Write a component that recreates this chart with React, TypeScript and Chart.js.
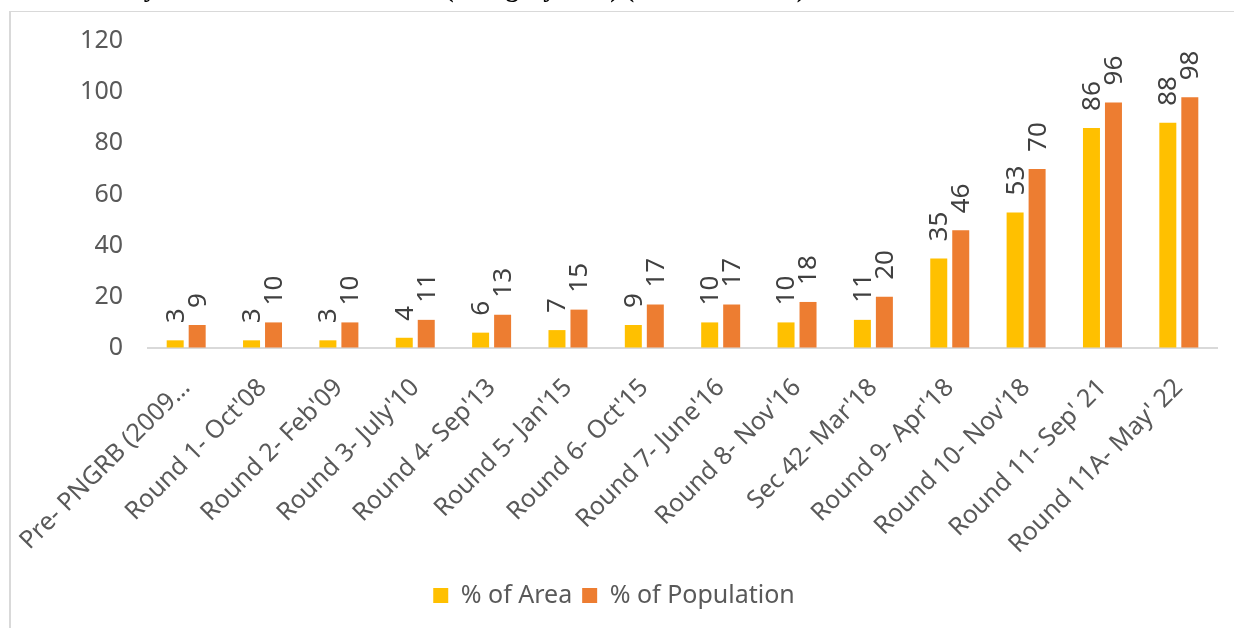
import React, { useEffect, useRef } from "react";
import { Chart, registerables } from "chart.js";

Chart.register(...registerables);

const titleText = "Chart 3: City Gas distribution in India (Category wise) (Cumulative %)";

const categories = [
  "Pre- PNGRB (2009…",
  "Round 1- Oct'08",
  "Round 2- Feb'09",
  "Round 3- July'10",
  "Round 4- Sep'13",
  "Round 5- Jan'15",
  "Round 6- Oct'15",
  "Round 7- June'16",
  "Round 8- Nov'16",
  "Sec 42- Mar'18",
  "Round 9- Apr'18",
  "Round 10- Nov'18",
  "Round 11- Sep' 21",
  "Round 11A- May' 22",
];

const areaValues = [3, 3, 3, 4, 6, 7, 9, 10, 10, 11, 35, 53, 86, 88];
const populationValues = [9, 10, 10, 11, 13, 15, 17, 17, 18, 20, 46, 70, 96, 98];

const seriesNames = ["% of Area", "% of Population"];
const yTicks = [0, 20, 40, 60, 80, 100, 120];

const FONT = "'Noto Sans', 'Open Sans', sans-serif";

const valueLabels = {
  id: "valueLabels",
  afterDatasetsDraw(chart: any) {
    const ctx = chart.ctx;
    ctx.save();
    ctx.font = `26px ${FONT}`;
    ctx.fillStyle = "#404040";
    ctx.textAlign = "left";
    ctx.textBaseline = "middle";
    chart.data.datasets.forEach((ds: any, i: number) => {
      const meta = chart.getDatasetMeta(i);
      meta.data.forEach((el: any, j: number) => {
        const v = ds.data[j];
        ctx.save();
        ctx.translate(el.x + 1, el.y - 17);
        ctx.rotate(-Math.PI / 2);
        ctx.fillText(String(Math.round(v)), 0, 0);
        ctx.restore();
      });
    });
    ctx.restore();
  },
};

export default function App() {
  const canvasRef = useRef<HTMLCanvasElement | null>(null);

  useEffect(() => {
    let chart: Chart | null = null;
    let cancelled = false;
    const build = () => {
      if (cancelled || !canvasRef.current) return;
      chart = new Chart(canvasRef.current, {
        type: "bar",
        data: {
          labels: categories,
          datasets: [
            {
              label: seriesNames[0],
              data: areaValues,
              backgroundColor: "#FFC000",
              categoryPercentage: 0.576,
              barPercentage: 0.773,
            },
            {
              label: seriesNames[1],
              data: populationValues,
              backgroundColor: "#ED7D31",
              categoryPercentage: 0.576,
              barPercentage: 0.773,
            },
          ],
        },
        options: {
          animation: false,
          responsive: false,
          maintainAspectRatio: false,
          devicePixelRatio: 1,
          layout: { padding: { left: 0, right: 17, top: 29, bottom: 10 } },
          plugins: {
            tooltip: { enabled: false },
            title: { display: false },
            legend: {
              display: true,
              position: "bottom",
              labels: {
                boxWidth: 15,
                boxHeight: 15,
                padding: 10,
                color: "#595959",
                font: { family: FONT, size: 25 },
              },
            },
          },
          scales: {
            x: {
              grid: {
                display: true,
                drawOnChartArea: false,
                drawTicks: true,
                tickLength: 25,
                color: "rgba(0,0,0,0)",
                tickColor: "rgba(0,0,0,0)",
              },
              border: { display: true, color: "#d9d9d9", width: 2 },
              ticks: {
                autoSkip: false,
                maxRotation: 45,
                minRotation: 45,
                padding: 0,
                color: "#595959",
                font: { family: FONT, size: 25 },
              },
              afterFit: (s: any) => {
                s.height = 225;
              },
            },
            y: {
              min: 0,
              max: 120,
              grid: {
                display: true,
                drawOnChartArea: false,
                drawTicks: true,
                tickLength: 25,
                color: "rgba(0,0,0,0)",
                tickColor: "rgba(0,0,0,0)",
              },
              border: { display: false },
              afterBuildTicks: (s: any) => {
                s.ticks = yTicks.map((v) => ({ value: v }));
              },
              ticks: {
                padding: 0,
                color: "#595959",
                font: { family: FONT, size: 25 },
              },
              afterFit: (s: any) => {
                s.width = 137;
              },
            },
          },
        },
        plugins: [valueLabels],
      } as any);
    };
    if ((document as any).fonts && (document as any).fonts.load) {
      (document as any).fonts
        .load(`25px 'Noto Sans'`)
        .then(build, build);
    } else {
      build();
    }
    return () => {
      cancelled = true;
      if (chart) chart.destroy();
    };
  }, []);

  return (
    <>
      <div
        style={{
          position: "fixed",
          left: 8,
          top: -24,
          fontFamily: "'Liberation Serif', 'Times New Roman', serif",
          fontWeight: "bold",
          fontSize: 26,
          lineHeight: "25px",
          whiteSpace: "nowrap",
          color: "#000",
        }}
      >
        {titleText}
      </div>
      <div
        style={{
          position: "fixed",
          left: 9,
          top: 11,
          width: 1225,
          height: 617,
          borderLeft: "2px solid #d9d9d9",
          borderTop: "1px solid #d9d9d9",
          background: "#fff",
        }}
      >
        <canvas
          ref={canvasRef}
          width={1223}
          height={616}
          style={{ display: "block", width: 1223, height: 616 }}
        />
      </div>
    </>
  );
}
